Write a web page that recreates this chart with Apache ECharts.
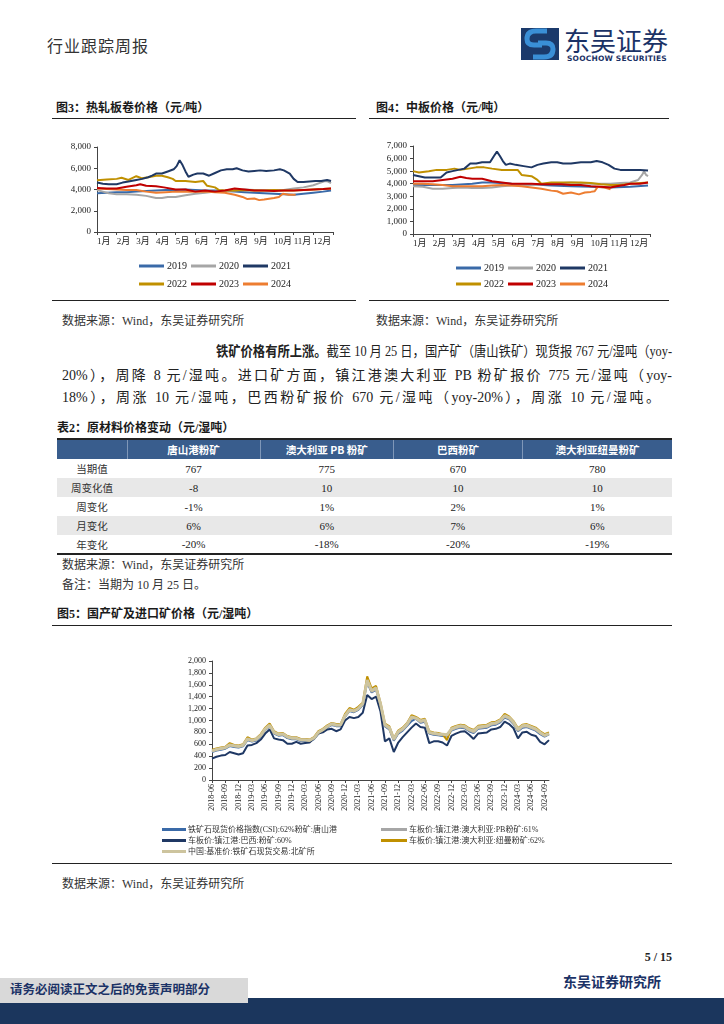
<!DOCTYPE html>
<html><head><meta charset="utf-8">
<script src="https://cdn.jsdelivr.net/npm/echarts/dist/echarts.min.js"></script>
<style>
html,body{margin:0;padding:0;background:#fff;}
body{width:724px;height:1024px;position:relative;overflow:hidden;font-family:"Liberation Serif","Noto Sans CJK SC",serif;color:#222;}
.t{position:absolute;white-space:nowrap;}
.hl{position:absolute;height:0;border-top:1.5px solid #222;}
.ttl{font-weight:bold;font-size:12px;color:#1a1a1a;line-height:16px;}
.src{font-size:12px;color:#333;line-height:16px;}
.para{font-size:14px;line-height:20px;color:#222;}
.just{text-align:justify;text-align-last:justify;white-space:normal;overflow:hidden;height:20px;}
table{border-collapse:collapse;font-size:11px;}
td,th{padding:0;text-align:center;}
</style></head>
<body>
<!-- header -->
<div class="t" style="left:47px;top:37px;font-size:16px;line-height:20px;color:#333;letter-spacing:1px;">行业跟踪周报</div>
<svg style="position:absolute;left:521px;top:28px" width="38" height="32" viewBox="0 0 38 32">
<rect x="0" y="0" width="38" height="32" fill="#1b3a6b"/>
<path d="M26 3 L15 3 Q6 3 6 11 Q6 17 13 17 L21 17" stroke="#3a8fd6" stroke-width="5" fill="none"/>
<path d="M12 29 L23 29 Q32 29 32 21 Q32 15 25 15 L17 15" stroke="#3a8fd6" stroke-width="5" fill="none"/>
</svg>
<div class="t" style="left:564px;top:25px;font-size:26px;line-height:30px;color:#1b3266;font-family:'Noto Sans CJK SC';">东吴证券</div>
<div class="t" style="left:567px;top:54px;font-size:7.5px;line-height:9px;color:#1b3266;font-weight:bold;font-family:'DejaVu Sans';letter-spacing:0.2px;">SOOCHOW SECURITIES</div>

<!-- fig3/fig4 titles -->
<div class="t ttl" style="left:56px;top:100px;">图3：热轧板卷价格（元/吨）</div>
<div class="hl" style="left:52px;top:118px;width:304px;"></div>
<div class="t ttl" style="left:376px;top:100px;">图4：中板价格（元/吨）</div>
<div class="hl" style="left:369px;top:118px;width:300px;"></div>
<div id="c3" style="position:absolute;left:52px;top:125px;width:304px;height:175px;"></div>
<div id="c4" style="position:absolute;left:369px;top:125px;width:300px;height:175px;"></div>
<div class="hl" style="left:52px;top:300px;width:304px;"></div>
<div class="hl" style="left:369px;top:300px;width:300px;"></div>
<div class="t src" style="left:62px;top:313px;">数据来源：Wind，东吴证券研究所</div>
<div class="t src" style="left:376px;top:313px;">数据来源：Wind，东吴证券研究所</div>

<!-- paragraph -->
<div id="pl1" class="t para" style="left:216px;top:342px;transform-origin:0 50%;"><b>铁矿价格有所上涨。</b>截至 10 月 25 日，国产矿（唐山铁矿）现货报 767 元/湿吨（yoy-</div>
<div class="t para just" style="left:62px;top:366px;width:610px;">20%），周降 8 元/湿吨。进口矿方面，镇江港澳大利亚 PB 粉矿报价 775 元/湿吨（yoy-</div>
<div class="t para just" style="left:62px;top:388px;width:598px;">18%），周涨 10 元/湿吨，巴西粉矿报价 670 元/湿吨（yoy-20%），周涨 10 元/湿吨。</div>

<!-- table -->
<div class="t ttl" style="left:57px;top:420px;">表2：原材料价格变动（元/湿吨）</div>
<div id="tbl" style="position:absolute;left:57px;top:438px;width:615px;"></div>
<div class="t src" style="left:62px;top:557px;">数据来源：Wind，东吴证券研究所</div>
<div class="t src" style="left:62px;top:577px;">备注：当期为 10 月 25 日。</div>

<!-- fig5 -->
<div class="t ttl" style="left:57px;top:606px;">图5：国产矿及进口矿价格（元/湿吨）</div>
<div class="hl" style="left:52px;top:625px;width:620px;"></div>
<div id="c5" style="position:absolute;left:52px;top:640px;width:620px;height:222px;"></div>
<div class="hl" style="left:52px;top:863px;width:620px;"></div>
<div class="t src" style="left:62px;top:876px;">数据来源：Wind，东吴证券研究所</div>

<!-- footer -->
<div class="t" style="right:52px;top:949px;font-size:12px;line-height:16px;font-weight:bold;color:#222;">5 / 15</div>
<div class="t" style="left:563px;top:974px;font-size:14px;line-height:18px;font-weight:bold;color:#1b3266;">东吴证券研究所</div>
<div style="position:absolute;left:0;top:998px;width:724px;height:26px;background:#1b365d;"></div>
<div style="position:absolute;left:0;top:978px;width:248px;height:25px;background:#d9d9d9;"></div>
<div class="t" style="left:10px;top:982px;font-size:12.5px;line-height:17px;font-weight:bold;color:#1b3266;">请务必阅读正文之后的免责声明部分</div>

<script>
// fit first paragraph line into its measure
(function(){const el=document.getElementById('pl1');const w=el.getBoundingClientRect().width;if(w>0){el.style.transform='scaleX('+(456/w)+')';}})();

// ---------- Figure 3: HRC price (month, yuan/t) ----------
const years = ['2019','2020','2021','2022','2023','2024'];
const monthTicks = ['1月','2月','3月','4月','5月','6月','7月','8月','9月','10月','11月','12月'];
const hrc2019 = [[1,3650],[1.5,3700],[2,3750],[2.5,3750],[3,3800],[3.5,3850],[4,3900],[4.5,3950],[5,3950],[5.5,4000],[6,3950],[6.5,3900],[7,3900],[7.5,3850],[8,3800],[8.5,3750],[9,3700],[9.5,3650],[10,3600],[10.5,3550],[11,3500],[11.5,3600],[12,3700],[12.5,3800],[12.9,3900]];
const hrc2020 = [[1,3950],[1.3,3800],[1.6,3650],[2,3550],[2.5,3550],[3,3500],[3.5,3400],[4,3200],[4.3,3200],[4.6,3300],[5,3300],[5.5,3450],[6,3600],[6.5,3700],[7,3800],[7.5,3850],[8,3900],[8.5,4000],[9,3950],[9.5,3900],[10,3900],[10.5,3950],[11,4100],[11.5,4200],[12,4400],[12.3,4600],[12.6,4800],[12.75,4750],[12.9,4600]];
const hrc2021 = [[1,4650],[1.3,4550],[1.6,4500],[2,4500],[2.3,4650],[2.6,4750],[3,4900],[3.3,5000],[3.6,5150],[3.8,5300],[4,5500],[4.3,5500],[4.6,5700],[4.9,5900],[5.05,6200],[5.2,6750],[5.35,6300],[5.5,5700],[5.65,5200],[5.9,5400],[6.1,5500],[6.4,5500],[6.7,5300],[7,5550],[7.3,5800],[7.6,5900],[7.9,5900],[8.1,6000],[8.4,5800],[8.7,5700],[9,5750],[9.3,5800],[9.6,5750],[10,5800],[10.3,5900],[10.5,5800],[10.8,5500],[11,5000],[11.2,4700],[11.5,4700],[11.8,4750],[12.1,4800],[12.4,4800],[12.7,4900],[12.9,4800]];
const hrc2022 = [[1,4880],[1.5,4950],[2,5000],[2.25,5100],[2.6,4900],[3,5250],[3.3,5050],[3.6,5150],[4,5300],[4.3,5300],[4.6,5150],[4.85,5000],[5,4800],[5.5,4800],[6,4700],[6.4,4800],[6.6,4350],[7,4200],[7.2,3950],[7.5,3900],[8,3900],[8.5,3950],[9,3900],[9.5,3900],[10,3950],[10.5,3900],[11,3900],[11.5,3950],[12,4000],[12.5,4050],[12.9,4100]];
const hrc2023 = [[1,4150],[1.5,4100],[2,4100],[2.5,4250],[3,4400],[3.2,4500],[3.5,4350],[4,4300],[4.4,4200],[5,4000],[5.5,4000],[6,3800],[6.5,3900],[7,3800],[7.5,3900],[8,4100],[8.5,4000],[9,3900],[9.5,3900],[10,3850],[10.5,3900],[11,3900],[11.5,3950],[12,4000],[12.5,4050],[12.9,4100]];
const hrc2024 = [[1,4100],[1.5,4050],[2,4000],[2.5,3950],[3,3950],[3.5,3800],[4,3700],[4.5,3750],[5,3800],[5.5,3800],[6,3800],[6.5,3800],[7,3750],[7.5,3700],[8,3500],[8.4,3300],[8.65,3100],[9,3150],[9.25,3000],[9.5,3050],[10,3200],[10.25,3300],[10.45,3600],[10.75,3500],[11.1,3500]];

// ---------- Figure 4: medium plate price ----------
const mp2019 = [[1,3900],[2,3900],[3,3900],[4,4000],[4.5,4100],[5,4100],[6,4000],[7,3950],[8,3850],[9,3800],[10,3750],[11,3700],[12,3750],[12.9,3850]];
const mp2020 = [[1,3800],[1.5,3750],[2,3600],[2.5,3600],[3,3650],[3.5,3700],[4,3650],[4.5,3650],[5,3700],[5.5,3800],[6,3850],[7,3900],[8,4000],[9,4100],[10,4000],[11,4000],[11.5,4050],[12,4100],[12.4,4300],[12.6,4700],[12.7,5000],[12.8,4700],[12.9,4600]];
const mp2021 = [[1,4700],[1.3,4600],[1.6,4500],[2,4500],[2.4,4500],[2.7,4900],[3,5000],[3.3,5100],[3.6,5200],[3.9,5600],[4.2,5600],[4.5,5700],[4.9,5700],[5.1,6200],[5.25,6550],[5.4,6200],[5.55,5800],[5.7,5500],[5.9,5600],[6.2,5500],[6.6,5400],[7,5300],[7.3,5500],[7.6,5600],[8,5700],[8.3,5700],[8.6,5600],[9,5600],[9.5,5700],[10,5700],[10.3,5800],[10.6,5700],[10.9,5500],[11.2,5200],[11.5,5100],[12,5100],[12.5,5100],[12.9,5050]];
const mp2022 = [[1,5000],[1.3,4900],[1.8,5000],[2.2,5100],[2.7,5100],[3.1,5200],[3.4,5100],[3.8,5200],[4.2,5300],[4.6,5300],[5,5200],[5.5,5100],[6,5100],[6.3,5100],[6.5,4700],[7,4600],[7.3,4300],[7.5,4000],[8,4100],[8.5,4100],[9,4100],[9.5,4100],[10,4050],[10.5,3950],[11,3900],[11.5,3900],[12,4000],[12.9,4100]];
const mp2023 = [[1,4200],[1.5,4200],[2,4200],[2.5,4300],[3,4400],[3.4,4550],[3.7,4450],[4,4400],[4.5,4400],[5,4200],[5.5,4100],[6,4000],[6.5,4000],[7,4000],[7.5,3950],[8,3950],[8.5,3950],[9,3900],[9.5,3900],[10,3800],[10.5,3750],[11,3700],[11.3,3800],[11.7,3900],[12,4000],[12.5,4000],[12.9,4100]];
const mp2024 = [[1,4000],[1.5,4000],[2,3950],[2.5,3900],[3,3800],[3.5,3800],[4,3800],[4.5,3800],[5,3850],[5.5,3900],[6,3850],[6.5,3800],[7,3700],[7.5,3600],[8,3450],[8.3,3400],[8.6,3200],[9,3300],[9.4,3150],[9.7,3300],[10,3350],[10.2,3400],[10.35,3750],[10.7,3700],[11,3550]];

// ---------- Figure 5: iron ore prices (monthly, yuan/wet t) ----------
const oreMonths = ['2018-06','2018-07','2018-08','2018-09','2018-10','2018-11','2018-12',
'2019-01','2019-02','2019-03','2019-04','2019-05','2019-06','2019-07','2019-08','2019-09','2019-10','2019-11','2019-12',
'2020-01','2020-02','2020-03','2020-04','2020-05','2020-06','2020-07','2020-08','2020-09','2020-10','2020-11','2020-12',
'2021-01','2021-02','2021-03','2021-04','2021-05','2021-06','2021-07','2021-08','2021-09','2021-10','2021-11','2021-12',
'2022-01','2022-02','2022-03','2022-04','2022-05','2022-06','2022-07','2022-08','2022-09','2022-10','2022-11','2022-12',
'2023-01','2023-02','2023-03','2023-04','2023-05','2023-06','2023-07','2023-08','2023-09','2023-10','2023-11','2023-12',
'2024-01','2024-02','2024-03','2024-04','2024-05','2024-06','2024-07','2024-08','2024-09','2024-10'];
const oreNames = ['铁矿石现货价格指数(CSI):62%粉矿:唐山港','车板价:镇江港:巴西:粉矿:60%','中国:基准价:铁矿石现货交易:北矿所','车板价:镇江港:澳大利亚:PB粉矿:61%','车板价:镇江港:澳大利亚:纽曼粉矿:62%'];
const csiTangshan = [470,495,510,525,570,555,545, 565,670,645,665,730,840,900,780,745,755,705,685, 685,655,655,645,685,780,825,880,925,905,905,1060, 1160,1140,1180,1260,1640,1470,1520,1250,900,850,660,780, 830,910,990,1030,960,980,780,760,750,740,730,830, 860,880,870,820,790,860,870,880,920,930,970,1050, 1020,940,820,880,890,860,830,770,730,767];
const brazil60 = [360,390,410,420,470,450,430, 450,580,590,620,680,780,850,700,680,670,610,610, 640,610,620,630,700,780,800,850,860,820,850,1000, 1060,1040,1060,1130,1430,1360,1400,1150,650,700,470,630, 720,800,880,950,890,880,620,650,650,630,580,740, 780,810,820,760,690,780,790,800,850,860,890,980, 940,870,700,800,810,760,740,640,600,670];
const beijingOre = [490,515,530,545,590,575,565, 585,690,665,685,750,860,920,800,765,775,725,705, 705,675,675,665,705,800,845,900,945,925,925,1080, 1180,1160,1200,1280,1680,1500,1550,1280,930,880,690,810, 860,940,1060,1040,990,1010,800,785,775,770,760,860, 890,910,900,850,820,890,900,910,950,960,1000,1080, 1050,970,850,910,920,890,860,800,750,780];
const pb61 = [480,505,520,535,580,565,555, 575,680,655,675,740,850,910,790,755,765,715,695, 695,665,665,655,695,790,835,890,935,915,915,1070, 1170,1150,1190,1270,1660,1480,1530,1260,910,860,670,790, 840,920,1040,1030,970,990,790,770,760,750,740,840, 870,890,880,830,800,870,880,890,930,940,980,1060, 1030,950,830,890,900,870,840,780,740,775];
const newman62 = [510,530,545,560,620,590,580, 600,720,680,700,770,880,950,820,780,790,740,720, 720,690,690,680,720,820,860,920,960,940,940,1110, 1210,1180,1230,1300,1740,1540,1580,1300,950,900,700,830, 880,960,1090,1060,1010,1030,820,800,790,770,670,880, 910,930,920,870,840,910,920,930,970,980,1020,1110, 1070,990,870,930,940,910,880,820,770,800];

// ---------- Table 2 ----------
const tableCols = ['唐山港粉矿','澳大利亚 PB 粉矿','巴西粉矿','澳大利亚纽曼粉矿'];
const tableRowNames = ['当期值','周变化值','周变化','月变化','年变化'];
const tableCurrent = ['767','775','670','780'];
const tableWeekChg = ['-8','10','10','10'];
const tableWeekPct = ['-1%','1%','2%','1%'];
const tableMonthPct = ['6%','6%','7%','6%'];
const tableYearPct = ['-20%','-18%','-20%','-19%'];

// build table
(function(){
  const widths=[70,133,133,129,150];
  const rows=[tableCurrent,tableWeekChg,tableWeekPct,tableMonthPct,tableYearPct];
  let h='<table style="width:615px;border-top:2px solid #222;border-bottom:2px solid #222;">';
  h+='<tr style="height:20px;background:#395d8d;color:#fff;font-weight:bold;"><td style="width:'+widths[0]+'px;border-right:1px solid #7f97b8"></td>';
  tableCols.forEach((c,i)=>{h+='<td style="width:'+widths[i+1]+'px;'+(i<3?'border-right:1px solid #7f97b8;':'')+'font-family:\'Noto Sans CJK SC\';font-size:10.5px;">'+c+'</td>';});
  h+='</tr>';
  rows.forEach((r,ri)=>{
    h+='<tr style="height:19px;background:'+(ri%2===1?'#e8e8e8':'#fff')+';"><td style="font-size:10.5px;color:#333;">'+tableRowNames[ri]+'</td>';
    r.forEach(v=>{h+='<td style="font-size:11px;color:#222;">'+v+'</td>';});
    h+='</tr>';
  });
  h+='</table>';
  document.getElementById('tbl').innerHTML=h;
})();

const FONT='"Liberation Serif","Noto Sans CJK SC",serif';
const yearColors={'2019':'#3a6aa8','2020':'#a6a6a6','2021':'#1f3864','2022':'#c09000','2023':'#c00000','2024':'#ed7d31'};
const fmt=v=>v.toLocaleString('en-US');

function yearChart(el,data,ymax,yint,grid,legLeft,legTops){
  const chart=echarts.init(document.getElementById(el),null,{renderer:'canvas'});
  const order=['2019','2020','2022','2024','2023','2021'];
  chart.setOption({
    animation:false,
    grid:grid,
    xAxis:{type:'value',min:1,max:13,interval:1,
      axisLine:{show:true,lineStyle:{color:'#444',width:1}},
      axisTick:{show:true,length:3,lineStyle:{color:'#444'}},
      splitLine:{show:false},
      axisLabel:{fontFamily:FONT,fontSize:9,color:'#222',align:'left',margin:5,
        formatter:v=>(v>=1&&v<=12)?monthTicks[v-1]:''}},
    yAxis:{type:'value',min:0,max:ymax,interval:yint,
      axisLine:{show:true,lineStyle:{color:'#444',width:1}},
      axisTick:{show:true,length:3,lineStyle:{color:'#444'}},
      splitLine:{show:false},
      axisLabel:{fontFamily:FONT,fontSize:9,color:'#222',margin:6,formatter:fmt}},
    legend:[
      {data:['2019','2020','2021'],left:legLeft,top:legTops[0],icon:'rect',itemWidth:25,itemHeight:3,itemGap:4,
       textStyle:{fontFamily:FONT,fontSize:10,color:'#222',padding:[0,0,0,-2]}},
      {data:['2022','2023','2024'],left:legLeft,top:legTops[1],icon:'rect',itemWidth:25,itemHeight:3,itemGap:4,
       textStyle:{fontFamily:FONT,fontSize:10,color:'#222',padding:[0,0,0,-2]}}],
    series:order.map(y=>({name:y,type:'line',data:data[y],showSymbol:false,smooth:false,
      lineStyle:{width:2,color:yearColors[y]},itemStyle:{color:yearColors[y]}}))
  });
}
yearChart('c3',{'2019':hrc2019,'2020':hrc2020,'2021':hrc2021,'2022':hrc2022,'2023':hrc2023,'2024':hrc2024},
  8000,2000,{left:45,right:23,top:22,bottom:68},82,[131,149]);
yearChart('c4',{'2019':mp2019,'2020':mp2020,'2021':mp2021,'2022':mp2022,'2023':mp2023,'2024':mp2024},
  7000,1000,{left:44,right:19,top:21,bottom:66},82,[133,149]);

// figure 5
(function(){
  const chart=echarts.init(document.getElementById('c5'));
  const cols=['#3a6aa8','#1f3864','#cdc49e','#a6a6a6','#c09000'];
  const vals=[csiTangshan,brazil60,beijingOre,pb61,newman62];
  const drawOrder=[0,3,1,4,2];
  chart.setOption({
    animation:false,
    grid:{left:160,right:123,top:21,bottom:82},
    xAxis:{type:'category',data:oreMonths,boundaryGap:false,
      axisLine:{lineStyle:{color:'#444'}},
      axisTick:{show:true,interval:2,length:3,lineStyle:{color:'#444'}},
      axisLabel:{interval:2,rotate:90,fontFamily:FONT,fontSize:8,color:'#222',margin:4}},
    yAxis:{type:'value',min:0,max:2000,interval:200,
      axisLine:{show:true,lineStyle:{color:'#444'}},
      axisTick:{show:true,length:3,lineStyle:{color:'#444'}},
      splitLine:{show:false},
      axisLabel:{fontFamily:FONT,fontSize:8,color:'#222',margin:6,formatter:fmt}},
    legend:[
      {data:[oreNames[0],oreNames[1],oreNames[2]],orient:'vertical',left:105,top:180,icon:'rect',itemWidth:24,itemHeight:3,itemGap:2,
       textStyle:{fontFamily:FONT,fontSize:8,lineHeight:9,color:'#333',padding:[0,0,0,-3]}},
      {data:[oreNames[3],oreNames[4]],orient:'vertical',left:324,top:180,icon:'rect',itemWidth:26,itemHeight:3,itemGap:2,
       textStyle:{fontFamily:FONT,fontSize:8,lineHeight:9,color:'#333',padding:[0,0,0,-3]}}],
    series:drawOrder.map(i=>({name:oreNames[i],type:'line',data:vals[i],showSymbol:false,
      lineStyle:{width:i===2?3:2,color:cols[i]},itemStyle:{color:cols[i]}}))
  });
})();
</script>
</body></html>
